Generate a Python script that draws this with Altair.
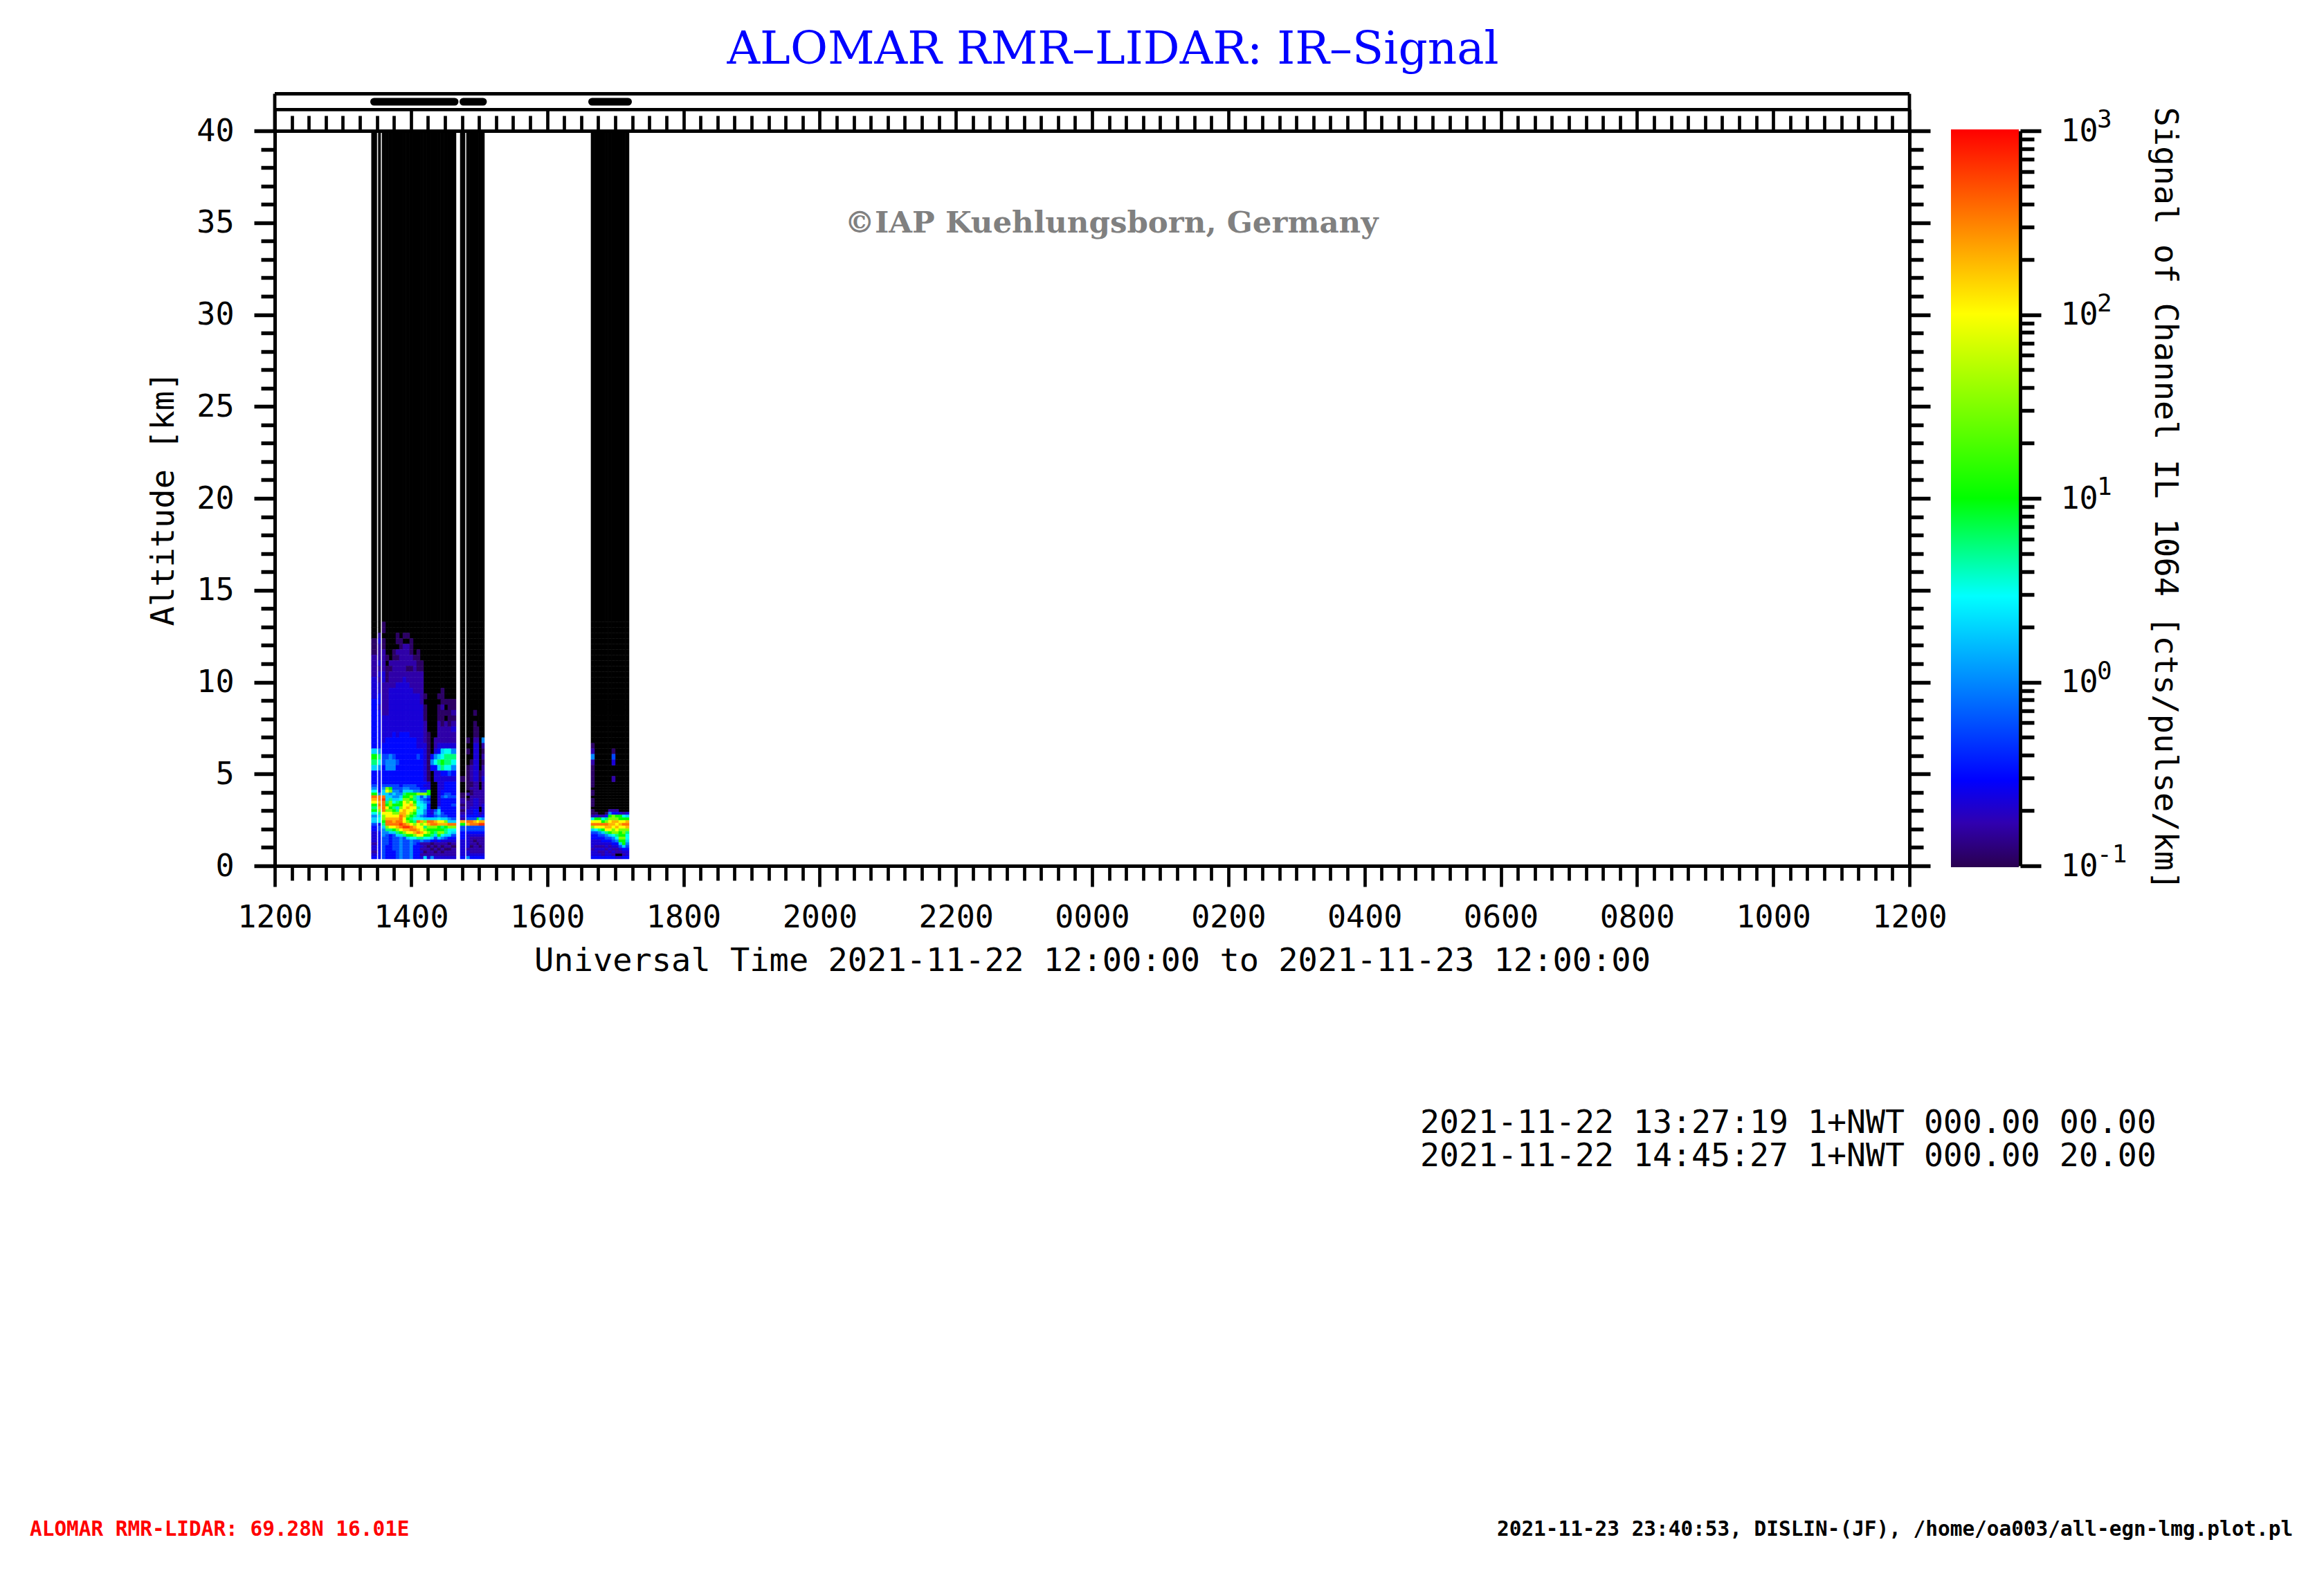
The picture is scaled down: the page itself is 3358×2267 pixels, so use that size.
import altair as alt
import pandas as pd

# ---------- values ----------
TITLE = "ALOMAR RMR–LIDAR: IR–Signal"
WATERMARK = "©IAP Kuehlungsborn, Germany"
INFO_LINES = ["2021-11-22 13:27:19 1+NWT 000.00 00.00", "2021-11-22 14:45:27 1+NWT 000.00 20.00"]
FOOT_L = "ALOMAR RMR-LIDAR: 69.28N 16.01E"
FOOT_R = "2021-11-23 23:40:53, DISLIN-(JF), /home/oa003/all-egn-lmg.plot.pl"

# altitude edges of the lidar rows, top row first (km)
ALT_EDGES = [40.0, 13.275, 12.975, 12.675, 12.375, 12.075, 11.775, 11.475, 11.175, 10.875, 10.575,
             10.275, 9.975, 9.675, 9.375, 9.075, 8.775, 8.475, 8.175, 7.875, 7.575, 7.275, 6.975,
             6.675, 6.375, 6.075, 5.775, 5.475, 5.175, 4.875, 4.575, 4.425, 4.275, 4.125, 3.975,
             3.825, 3.675, 3.525, 3.375, 3.225, 3.075, 2.925, 2.775, 2.625, 2.475, 2.325, 2.175,
             2.025, 1.875, 1.725, 1.575, 1.425, 1.275, 1.125, 0.975, 0.825, 0.675, 0.525, 0.375]

# signal level code -> log10(cts/pulse/km); "." is below the colour range (black)
LEVELS = dict(a=-0.95, b=-0.78, c=-0.65, d=-0.5, e=-0.25, f=0.0, g=0.3, h=0.5, i=0.75,
              j=1.0, k=1.5, l=2.0, m=2.3, n=2.55, o=2.8)

# time edges (hours after 00 UT of 22 Nov) and per-column level strings, top to bottom
BLOCK_A_T = [(13.42, 13.50), (13.52, 13.555),
             (13.575, 13.626), (13.626, 13.676), (13.676, 13.727), (13.727, 13.778), (13.778, 13.829),
             (13.829, 13.880), (13.880, 13.930), (13.930, 13.981), (13.981, 14.032), (14.032, 14.083),
             (14.083, 14.134), (14.134, 14.184), (14.184, 14.235), (14.235, 14.286), (14.286, 14.337),
             (14.337, 14.388), (14.388, 14.438), (14.438, 14.489), (14.489, 14.540), (14.540, 14.591),
             (14.591, 14.662)]
BLOCK_A = [
    "...aaabbbbccccdddddddddgjigdd" + "defhjnmljijhfggeddccccbccbcd",
    "..bcbbbcbcbccddcdddddddfihfdd" + "ddddfnnmnmkighhdeedddddddddd",
    "aa.aabbbbccbbbbbbcccccddeeddd" + "defggnonnnnlkkjigfffeeeeeeee",
    "......a.aaabbbbbbccccdddeffdd" + "deklgggijlkllmnnkifeeeeddddd",
    ".......babbbcccccccccdddfffdd" + "dejkfgikkjkllmnnligddddddddd",
    ".....aabbbbbccccccccddddeffdd" + "deefgfghjijklmmnljgeeeeeeddd",
    "..aa.babbbbccccccccccddddeddd" + "deefffgijgiklmnnmkigeeeeeeee",
    "...aabbbbbbcccccccccddddddddd" + "ddeefghjjklmnnnonljgffffffff",
    "..a.bbbbbbccccccccccddddddddd" + "defgijklllmmmllnomkieeeeeeee",
    "..a.bbbbabbcccccccccddddddddd" + "defgjjkklmllkjkmomljgeeeeeee",
    "...aaabbabbbcccccccccdddddddd" + "deegjkjlmllkjijlnnljhfffffff",
    "......abbbbbbccccccccdddddddd" + "deefjiijklkjihikmnmkheeddddd",
    ".....aaaabbbbccccccccccdedddd" + "ddefkgghhihhghnllmnliedddddd",
    ".......aabbbbbbccccccccdddddd" + "dddekefghhhhfhmkllmlifbcbcbc",
    ".............a.aaabbbbccccccc" + "dcdekgefggffegklikljhebbbabg",
    "....................aaaaaaaaa" + "cccjjededddddgnmkjkjhebabbbc",
    "........................dfd.." + "..........ccdgnnkjjigdababbf",
    ".....................bbcfhdcc" + "..........efegmnkjigecbababc",
    ".............a.aaabbbbcdgigcc" + "ccccccccceggfhlmjjkjgdbbabbc",
    "............aaabaaabbbcghjidc" + "cccddedddddeeglmijkhfcbababc",
    "..............a.a.bbbbchiihdc" + "ddddefddddddegkmjiigecbbabbc",
    "..............aaaaabbbchiihec" + "ddddeedddddddfgnkhhgdcababbc",
    "..............aababcbbcfihfdc" + "dddddeddeddddegnkhgedcbabbbc",
]
BLOCK_B_T = [(14.723, 14.794), (14.814, 14.865), (14.865, 14.916), (14.916, 14.967),
             (14.967, 14.997), (14.997, 15.038), (15.038, 15.079)]
BLOCK_B = [
    "............................a" + "....aabbababcbmjeedddccccccd",
    ".....................a.a..aaa" + "aaa.b.abbbccdenmeedcccccbccf",
    ".........................abbb" + "aabaabbbbcccdenneedcbbbabbcd",
    "................a.aaabccccccc" + "bbbbbbccccdddemneedcbabbbbcd",
    "...................aabccccccc" + "bbbbbbccccdddjlneedcbbabbbcd",
    "...........................aa" + "...bbbbbb..bcgmoeedcbbbabbcd",
    ".....................fbababbc" + "bbbbbbbbccccdfmoeedcbbbbbbcd",
]
BLOCK_C_T = [(16.643, 16.694), (16.694, 16.745), (16.745, 16.796), (16.796, 16.847), (16.847, 16.897),
             (16.897, 16.948), (16.948, 16.999), (16.999, 17.050), (17.050, 17.101), (17.101, 17.151),
             (17.151, 17.202)]
BLOCK_C = [
    "......................abfbaaa" + "aa.aa.aaa.aabhlnkgeddcccbccd",
    "............................." + "...........acjlnlheddccbcccd",
    "............................." + "............bjlnlifedccbcbcd",
    "............................." + "............bhjnljgeddcbcbbd",
    "............................." + "...........adiknmlifedccbccd",
    "............................." + "..........bfjklmmljgedcbcbcd",
    ".......................aec..b" + "..........bdkkmmlkkhfedcbcbd",
    "............................." + "..........bdjkmlmlkihfdcbb.c",
    "............................." + "...........cjjlmlkjjkjgecb.c",
    "............................." + "...........bhjlnlkkjkjjgdcbd",
    "............................." + "...........cgjmnmkihhgfedccd",
]

# run markers in the strip above the plot (hours)
RUN_START = [13.458, 14.769, 16.659]
RUN_END = [14.642, 15.058, 17.187]

X_MAJOR = [12, 14, 16, 18, 20, 22, 24, 26, 28, 30, 32, 34, 36]
X_MINOR = [12.25, 12.5, 12.75, 13, 13.25, 13.5, 13.75, 14.25, 14.5, 14.75, 15, 15.25, 15.5, 15.75,
           16.25, 16.5, 16.75, 17, 17.25, 17.5, 17.75, 18.25, 18.5, 18.75, 19, 19.25, 19.5, 19.75,
           20.25, 20.5, 20.75, 21, 21.25, 21.5, 21.75, 22.25, 22.5, 22.75, 23, 23.25, 23.5, 23.75,
           24.25, 24.5, 24.75, 25, 25.25, 25.5, 25.75, 26.25, 26.5, 26.75, 27, 27.25, 27.5, 27.75,
           28.25, 28.5, 28.75, 29, 29.25, 29.5, 29.75, 30.25, 30.5, 30.75, 31, 31.25, 31.5, 31.75,
           32.25, 32.5, 32.75, 33, 33.25, 33.5, 33.75, 34.25, 34.5, 34.75, 35, 35.25, 35.5, 35.75]
Y_MAJOR = [0, 5, 10, 15, 20, 25, 30, 35, 40]
Y_MINOR = [1, 2, 3, 4, 6, 7, 8, 9, 11, 12, 13, 14, 16, 17, 18, 19, 21, 22, 23, 24, 26, 27, 28, 29,
           31, 32, 33, 34, 36, 37, 38, 39]
CB_MAJOR = [0.1, 1, 10, 100, 1000]
CB_EXP = ["-1", "0", "1", "2", "3"]
CB_MINOR = [0.2, 0.3, 0.4, 0.5, 0.6, 0.7, 0.8, 0.9, 2, 3, 4, 5, 6, 7, 8, 9,
            20, 30, 40, 50, 60, 70, 80, 90, 200, 300, 400, 500, 600, 700, 800, 900]
CB_DOMAIN = [0.1, 0.174, 0.295, 2.95, 10, 100, 316, 1000]
CB_COLORS = ["#2a0050", "#3000b0", "#0000ff", "#00ffff", "#00ff00", "#ffff00", "#ff8000", "#ff0000"]
CB_STOPS = [0.0, 0.125, 0.25, 0.5, 0.6325, 0.8825, 0.94, 1.0]

# ---------- build tables ----------
W, H = 2362, 1062
MONO = "DejaVu Sans Mono"
cells, black = [], []
for times, cols in [(BLOCK_A_T, BLOCK_A), (BLOCK_B_T, BLOCK_B), (BLOCK_C_T, BLOCK_C)]:
    assert len(times) == len(cols)
    for (t0, t1), col in zip(times, cols):
        col = "." + col
        assert len(col) == len(ALT_EDGES) - 1, (len(col), col)
        for i, ch in enumerate(col):
            row = dict(t0=t0, t1=t1, z0=ALT_EDGES[i + 1], z1=ALT_EDGES[i])
            if ch == ".":
                black.append(row)
            else:
                cells.append({**row, "v": 10 ** LEVELS[ch]})
cells, black = pd.DataFrame(cells), pd.DataFrame(black)

xs = alt.Scale(domain=[12, 36], nice=False, zero=False)
ys = alt.Scale(domain=[0, 40], nice=False, zero=False)
cbs = alt.Scale(type="log", domain=[0.1, 1000], nice=False)
cs = alt.Scale(type="log", domain=CB_DOMAIN, range=CB_COLORS, interpolate="rgb")

AX = dict(grid=False, title=None, domain=True, domainColor="black", tickColor="black",
          domainWidth=5, labelColor="black", labelFont=MONO, labelFontSize=45)


def xaxis(values, **kw):
    df = pd.DataFrame({"v": values})
    return alt.Chart(df).mark_point(opacity=0).encode(
        x=alt.X("v:Q", scale=xs, axis=alt.Axis(**{**AX, "values": values, "tickWidth": 4.7, **kw})))


def yaxis(values, scale=ys, **kw):
    df = pd.DataFrame({"v": values})
    return alt.Chart(df).mark_point(opacity=0).encode(
        y=alt.Y("v:Q", scale=scale, axis=alt.Axis(**{**AX, "values": values, "tickWidth": 5.5, **kw})))


def frame(x, x2, y, y2):
    return alt.Chart(pd.DataFrame({"a": [0]})).mark_rule(color="black", strokeWidth=4.8).encode(
        x=alt.value(x), x2=alt.value(x2), y=alt.value(y), y2=alt.value(y2))


def text(s, x, y, size, font=MONO, color="black", **kw):
    return alt.Chart(pd.DataFrame({"a": [0]})).mark_text(
        text=s, font=font, fontSize=size, color=color, baseline="middle", **kw
    ).encode(x=alt.value(x - 397), y=alt.value(y - 189))


heat_black = alt.Chart(black).mark_rect(color="black", stroke="black", strokeWidth=0.5).encode(
    x=alt.X("t0:Q", scale=xs, axis=None), x2="t1:Q",
    y=alt.Y("z0:Q", scale=ys, axis=None), y2="z1:Q")
heat = alt.Chart(cells).mark_rect(strokeWidth=0.5).encode(
    x=alt.X("t0:Q", scale=xs, axis=None), x2="t1:Q",
    y=alt.Y("z0:Q", scale=ys, axis=None), y2="z1:Q",
    color=alt.Color("v:Q", scale=cs, legend=None),
    stroke=alt.Stroke("v:Q", scale=cs, legend=None))

runs = alt.Chart(pd.DataFrame({"s": RUN_START, "e": RUN_END})).mark_rule(
    color="black", strokeWidth=11, strokeCap="round").encode(
    x=alt.X("s:Q", scale=xs, axis=None), x2="e:Q", y=alt.value(-42))

gradient = alt.Gradient(gradient="linear", x1=0, x2=0, y1=0, y2=1,
                        stops=[alt.GradientStop(offset=o, color=c)
                               for o, c in zip(CB_STOPS, CB_COLORS[::-1])])
colorbar = alt.Chart(pd.DataFrame({"a": [0]})).mark_rect(fill=gradient).encode(
    x=alt.value(2819 - 397), x2=alt.value(2917 - 397), y=alt.value(-2), y2=alt.value(H + 2))

exps = alt.Chart(pd.DataFrame({"v": CB_MAJOR, "e": CB_EXP})).mark_text(
    font=MONO, fontSize=36, color="black", align="left", baseline="middle", dy=-16).encode(
    x=alt.value(3030 - 397), y=alt.Y("v:Q", scale=cbs, axis=None), text="e:N")

layers = [
    heat_black, heat, runs, colorbar,
    frame(0, W, -53.5, -53.5), frame(0, W, -30.7, -30.7),
    frame(0, 0, -53.5, 0), frame(W, W, -53.5, 0),
    xaxis(X_MAJOR, orient="bottom", tickSize=30, labelPadding=22, labelOverlap=False, labelFlush=False,
          labelExpr="format(datum.value % 24, '02d') + '00'",
          title="Universal Time 2021-11-22 12:00:00 to 2021-11-23 12:00:00",
          titleFont=MONO, titleFontSize=47, titleFontWeight="normal", titleColor="black",
          titleX=1181, titleY=137, titleBaseline="middle"),
    xaxis(X_MINOR, orient="bottom", tickSize=21, labels=False, domain=False),
    xaxis(X_MAJOR, orient="top", tickSize=31, labels=False),
    xaxis(X_MINOR, orient="top", tickSize=22, labels=False, domain=False),
    yaxis(Y_MAJOR, orient="left", tickSize=30, labelPadding=29, labelOverlap=False, labelFlush=False,
          title="Altitude [km]", titleFont=MONO, titleFontSize=47, titleFontWeight="normal",
          titleColor="black", titleX=-161, titleY=531, titleBaseline="middle"),
    yaxis(Y_MINOR, orient="left", tickSize=20, labels=False, domain=False),
    yaxis(Y_MAJOR, orient="right", tickSize=30, labels=False),
    yaxis(Y_MINOR, orient="right", tickSize=20, labels=False, domain=False),
    yaxis(CB_MAJOR, scale=cbs, orient="right", offset=160, tickSize=30, labelPadding=28,
          labelOverlap=False, labelFlush=False, labelExpr="'10'", labelFontSize=45,
          title="Signal of Channel IL 1064 [cts/pulse/km]", titleFont=MONO, titleFontSize=47,
          titleFontWeight="normal", titleColor="black", titleAngle=90, titleBaseline="middle",
          titleX=208, titleY=531),
    yaxis(CB_MINOR, scale=cbs, orient="right", offset=160, tickSize=20, labels=False, domain=False),
    exps,
    text(TITLE, 1608, 72, 66, font="DejaVu Serif", color="#0000ff", align="center"),
    text(WATERMARK, 1606, 323, 43.5, font="DejaVu Serif", color="#808080", align="center", fontWeight="bold"),
    text(INFO_LINES[0], 2052, 1623, 46.5, align="left"),
    text(INFO_LINES[1], 2052, 1671, 46.5, align="left"),
    text(FOOT_L, 43, 2210, 29.4, color="#ff0000", align="left", fontWeight="bold"),
    text(FOOT_R, 2163, 2210, 29.4, align="left", fontWeight="bold"),
]

chart = alt.layer(*layers).resolve_scale(y="independent", color="shared", stroke="shared").resolve_axis(
    x="independent", y="independent"
).properties(
    width=W, height=H,
    padding={"left": 389, "top": 181, "right": 591, "bottom": 1008},
    autosize=alt.AutoSizeParams(type="none"),
    background="white",
).configure_view(stroke=None)

chart.save("out.html", embed_options={"renderer": "svg", "actions": False})
